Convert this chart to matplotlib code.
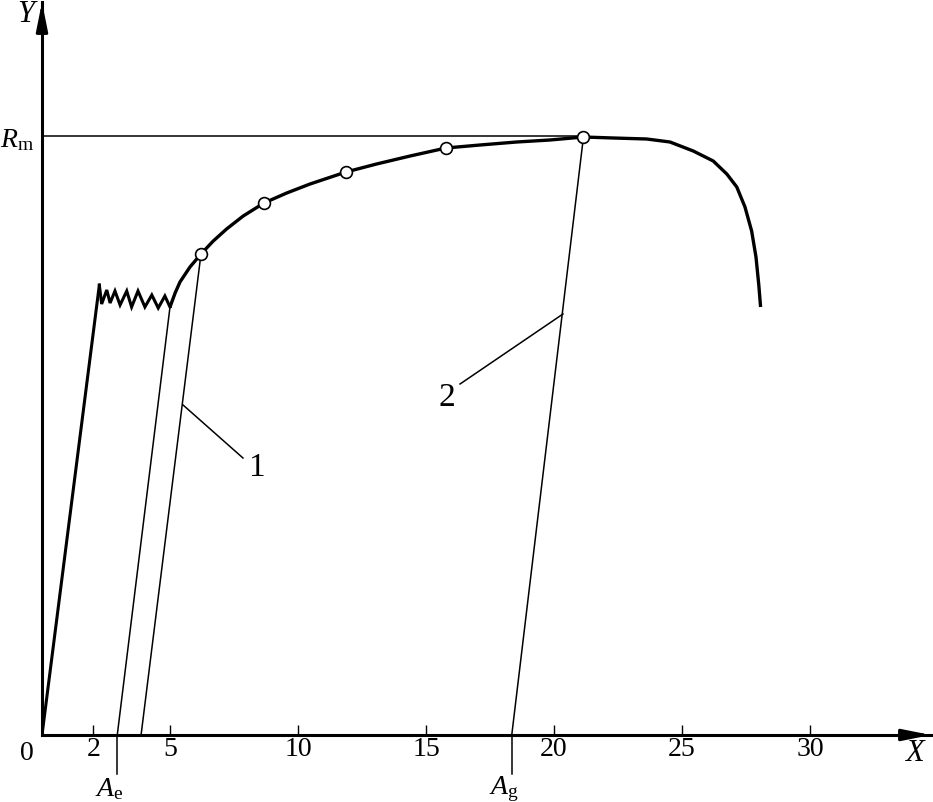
import matplotlib
matplotlib.use("Agg")
import matplotlib.pyplot as plt

plt.rcParams['font.family'] = ['Liberation Serif', 'DejaVu Serif']
plt.rcParams['mathtext.fontset'] = 'custom'
plt.rcParams['mathtext.rm'] = 'Liberation Serif'
plt.rcParams['mathtext.it'] = 'Liberation Serif:italic'

# elastic part and yield zigzag
elastic_x = [0, 2.24]
elastic_y = [0, 450]
yield_x = [2.24, 2.33, 2.53, 2.66, 2.85, 3.05, 3.31, 3.50, 3.75, 4.02, 4.29, 4.54, 4.80, 5.0]
yield_y = [450, 431, 445, 432, 444, 430, 444, 428, 444, 428, 440, 427, 439, 428]

# hardening + necking curve
curve_x = [5.0, 5.2, 5.39, 5.78, 6.21, 6.69, 7.21, 7.86, 8.67, 9.56, 10.47, 11.875,
           13.07, 14.38, 15.78, 17.11, 18.54, 19.84, 21.15,
           22.32, 23.62, 24.53, 25.44, 26.22, 26.75, 27.14, 27.46, 27.72,
           27.89, 28.0, 28.07]
curve_y = [428, 442, 453, 468, 481, 494, 506, 519, 532, 542, 551, 563,
           571, 579, 587, 590, 593, 595, 598,
           597, 596, 593, 584, 574, 561, 548, 528, 504,
           478, 450, 428]

# marked points on curve
pts_x = [6.21, 8.67, 11.875, 15.78, 21.15]
pts_y = [481, 532, 563, 587, 598]

Rm = 599
Ae = 2.94
Ag = 18.35
# unloading lines: (start x, start y, end x on axis)
unload = [(5.0, 428, Ae), (6.21, 481, 3.87), (21.15, 598, Ag)]

xticks = [2, 5, 10, 15, 20, 25, 30]

W, H = 933, 803
fig = plt.figure(figsize=(W / 100, H / 100), dpi=100)
ax = fig.add_axes([42 / W, 67 / H, (931 - 42) / W, (736 - 3) / H])
ax.set_xlim(0, 889 / 25.6)
ax.set_ylim(0, 733)

for s in ['top', 'right']:
    ax.spines[s].set_visible(False)
for s in ['left', 'bottom']:
    ax.spines[s].set_linewidth(2.2)

ax.set_xticks(xticks)
ax.set_xticklabels([str(t) for t in xticks], fontsize=20)
ax.set_yticks([])
ax.tick_params(axis='x', direction='in', length=7.2, width=1.0, pad=1)

# arrow heads
ax.annotate('', xy=(1.0, 0), xytext=(0.97, 0), xycoords='axes fraction',
            arrowprops=dict(arrowstyle='-|>,head_length=0.85,head_width=0.17',
                            color='k', lw=2.2, mutation_scale=20, shrinkA=0, shrinkB=0))
ax.annotate('', xy=(0, 1.0), xytext=(0, 0.97), xycoords='axes fraction',
            arrowprops=dict(arrowstyle='-|>,head_length=0.85,head_width=0.17',
                            color='k', lw=2.2, mutation_scale=20, shrinkA=0, shrinkB=0))

# Rm line
ax.plot([0, pts_x[-1]], [Rm, Rm], color='k', lw=1.1)

# curves
ax.plot(elastic_x, elastic_y, color='k', lw=2.2, solid_capstyle='round')
ax.plot(yield_x, yield_y, color='k', lw=2.2, solid_joinstyle='miter')
ax.plot(curve_x, curve_y, color='k', lw=2.4, solid_capstyle='butt', solid_joinstyle='round')

# unloading lines
for x0, y0, x1 in unload:
    ax.plot([x0, x1], [y0, 0], color='k', lw=1.1)
for xa in [Ae, Ag]:
    ax.plot([xa, xa], [0, -39], color='k', lw=1.1, clip_on=False)

ax.plot(pts_x, pts_y, 'o', ms=8.5, mfc='white', mec='k', mew=1.2, zorder=5)

# leaders
ax.plot([5.51, 7.85], [330, 277], color='k', lw=1.1)
ax.plot([20.35, 16.33], [421, 351], color='k', lw=1.1)
ax.text(8.36, 268, '1', fontsize=24, ha='center', va='center')
ax.text(15.82, 338, '2', fontsize=24, ha='center', va='center')

# labels
ax.text(-0.59, -18, '0', fontsize=20, ha='center', va='center', clip_on=False)
ax.text(34.1, -18, '$X$', fontsize=22, ha='center', va='center', clip_on=False)
ax.text(-0.55, 722, '$Y$', fontsize=22, ha='center', va='center', clip_on=False)
ax.text(-0.3, Rm - 3, r'$R_{\mathrm{m}}$', fontsize=20, ha='right', va='center', clip_on=False)
ax.text(Ae - 0.3, -53, r'$A_{\mathrm{e}}$', fontsize=20, ha='center', va='center', clip_on=False)
ax.text(Ag - 0.3, -53, r'$A_{\mathrm{g}}$', fontsize=20, ha='center', va='center', clip_on=False)

fig.savefig('out.png', dpi=100)
